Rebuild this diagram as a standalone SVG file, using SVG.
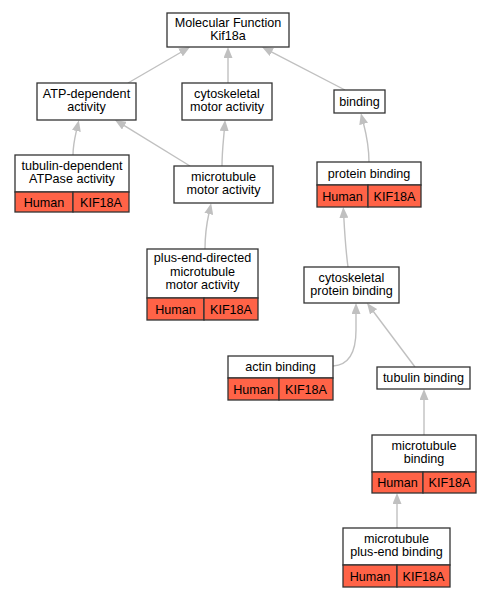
<svg xmlns="http://www.w3.org/2000/svg" width="492" height="597" viewBox="0 0 492 597">
<style>
.box{fill:#ffffff;stroke:#333333;stroke-width:1.3}
.cell{fill:#ff6347;stroke:#333333;stroke-width:1.3}
text{font-family:"Liberation Sans",Arial,sans-serif;font-size:12.6px;fill:#000000;text-anchor:middle}
.edge{fill:none;stroke:#c0c0c0;stroke-width:1.4}
</style>
<defs>
<marker id="arr" markerUnits="userSpaceOnUse" markerWidth="11" markerHeight="9" refX="1" refY="4.5" orient="auto">
<path d="M0,0 L11,4.5 L0,9 z" fill="#c0c0c0"/>
</marker>
</defs>
<rect width="492" height="597" fill="#ffffff"/>
<g id="connectors">
<path class="edge" marker-end="url(#arr)" d="M128,83 L181.4,52"/>
<path class="edge" marker-end="url(#arr)" d="M228,83 L228,57"/>
<path class="edge" marker-end="url(#arr)" d="M345,90 L270.9,51.6"/>
<path class="edge" marker-end="url(#arr)" d="M73,155 C73,145 75,137 76.6,130"/>
<path class="edge" marker-end="url(#arr)" d="M190,166 L123.5,125.2"/>
<path class="edge" marker-end="url(#arr)" d="M222,166 C222,152 223.5,140 224.3,130"/>
<path class="edge" marker-end="url(#arr)" d="M205,249 C205,235 207,222 209,213"/>
<path class="edge" marker-end="url(#arr)" d="M369,162 C369,148 366,133 363.4,123"/>
<path class="edge" marker-end="url(#arr)" d="M348,267 C346,252 344.5,230 343.8,217"/>
<path class="edge" marker-end="url(#arr)" d="M333,366 C350,365 356,350 356,330 C356,322 356,318 356,313"/>
<path class="edge" marker-end="url(#arr)" d="M415,367 L373,311"/>
<path class="edge" marker-end="url(#arr)" d="M424,435 L424,399"/>
<path class="edge" marker-end="url(#arr)" d="M397,528 L397,503"/>
</g>
<g id="mf">
<rect class="box" x="167" y="13" width="122" height="34"/>
<text x="228" y="26.5">Molecular Function</text>
<text x="228" y="39.5">Kif18a</text>
</g>
<g id="atp">
<rect class="box" x="37" y="83" width="99" height="37"/>
<text x="86.5" y="98">ATP-dependent</text>
<text x="86.5" y="111">activity</text>
</g>
<g id="cytomotor">
<rect class="box" x="182" y="83" width="90" height="37"/>
<text x="227" y="98">cytoskeletal</text>
<text x="227" y="111">motor activity</text>
</g>
<g id="binding">
<rect class="box" x="334" y="90" width="51" height="23"/>
<text x="359.5" y="105.5">binding</text>
</g>
<g id="tubdep">
<rect class="box" x="15" y="155" width="114" height="37"/>
<text x="72" y="170">tubulin-dependent</text>
<text x="72" y="183">ATPase activity</text>
<rect class="cell" x="15" y="192" width="58" height="20"/>
<rect class="cell" x="73" y="192" width="56" height="20"/>
<text x="44" y="206.5">Human</text>
<text x="101" y="206.5">KIF18A</text>
</g>
<g id="mtmotor">
<rect class="box" x="174" y="166" width="99" height="37"/>
<text x="223.5" y="181">microtubule</text>
<text x="223.5" y="194">motor activity</text>
</g>
<g id="plusend">
<rect class="box" x="147" y="249" width="111" height="49"/>
<text x="202.5" y="262">plus-end-directed</text>
<text x="202.5" y="275.5">microtubule</text>
<text x="202.5" y="289">motor activity</text>
<rect class="cell" x="147" y="298" width="57" height="22"/>
<rect class="cell" x="204" y="298" width="54" height="22"/>
<text x="175.5" y="313.5">Human</text>
<text x="231" y="313.5">KIF18A</text>
</g>
<g id="protein">
<rect class="box" x="317" y="162" width="104" height="23"/>
<text x="369" y="177.5">protein binding</text>
<rect class="cell" x="317" y="185" width="51" height="22"/>
<rect class="cell" x="368" y="185" width="53" height="22"/>
<text x="342.5" y="200.5">Human</text>
<text x="394.5" y="200.5">KIF18A</text>
</g>
<g id="cytoprotein">
<rect class="box" x="304" y="267" width="95" height="36"/>
<text x="351.5" y="282">cytoskeletal</text>
<text x="351.5" y="295">protein binding</text>
</g>
<g id="actin">
<rect class="box" x="228" y="356" width="105" height="22"/>
<text x="280.5" y="371">actin binding</text>
<rect class="cell" x="228" y="378" width="51" height="22"/>
<rect class="cell" x="279" y="378" width="54" height="22"/>
<text x="253.5" y="393.5">Human</text>
<text x="306" y="393.5">KIF18A</text>
</g>
<g id="tubulin">
<rect class="box" x="377" y="367" width="93" height="22"/>
<text x="423.5" y="382">tubulin binding</text>
</g>
<g id="mtbinding">
<rect class="box" x="372" y="435" width="104" height="37"/>
<text x="424" y="450">microtubule</text>
<text x="424" y="463">binding</text>
<rect class="cell" x="372" y="472" width="51" height="21"/>
<rect class="cell" x="423" y="472" width="53" height="21"/>
<text x="397.5" y="487">Human</text>
<text x="449.5" y="487">KIF18A</text>
</g>
<g id="mtplusend">
<rect class="box" x="343" y="528" width="107" height="37"/>
<text x="396.5" y="543">microtubule</text>
<text x="396.5" y="556">plus-end binding</text>
<rect class="cell" x="343" y="565" width="54" height="22"/>
<rect class="cell" x="397" y="565" width="53" height="22"/>
<text x="370" y="580.5">Human</text>
<text x="423.5" y="580.5">KIF18A</text>
</g>
</svg>
